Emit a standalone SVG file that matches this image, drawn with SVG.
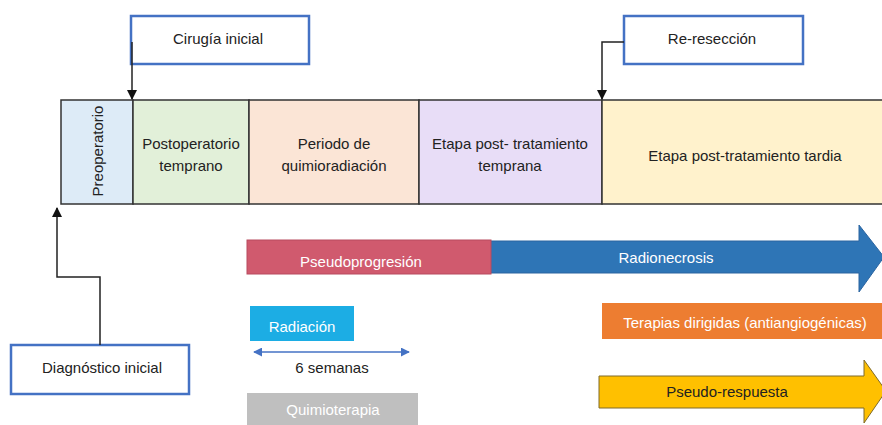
<svg xmlns="http://www.w3.org/2000/svg" width="882" height="425" viewBox="0 0 882 425">
<style>
text{font-family:"Liberation Sans",Arial,sans-serif;font-size:15px;text-anchor:middle;dominant-baseline:central;fill:#222}
.w{fill:#fff}
.lbl{fill:#fff;stroke:#4472C4;stroke-width:2.5}
.seg{stroke:#333;stroke-width:1.5}
.con{fill:none;stroke:#222;stroke-width:1.5}
</style>
<defs>
<marker id="ah" viewBox="0 0 10 10" refX="9" refY="5" markerWidth="7" markerHeight="7" orient="auto-start-reverse"><path d="M0,0L10,5L0,10z" fill="#111"/></marker>
<marker id="bh" viewBox="0 0 10 10" refX="9" refY="5" markerWidth="6" markerHeight="6" orient="auto-start-reverse"><path d="M0,0L10,5L0,10z" fill="#4472C4"/></marker>
</defs>
<rect width="882" height="425" fill="#fff"/>
<g id="timeline">
<g id="preoperatorio"><rect class="seg" x="61" y="100" width="72" height="104" fill="#DDEBF7"/><text transform="translate(97,151) rotate(-90)">Preoperatorio</text></g>
<g id="postoperatorio"><rect class="seg" x="133" y="100" width="116" height="104" fill="#E2F0D9"/><text x="191" y="143">Postoperatorio</text><text x="191" y="165">temprano</text></g>
<g id="quimiorad"><rect class="seg" x="249" y="100" width="170" height="104" fill="#FBE5D6"/><text x="334" y="143">Periodo de</text><text x="334" y="165">quimioradiación</text></g>
<g id="temprana"><rect class="seg" x="419" y="100" width="183" height="104" fill="#E8DDF7"/><text x="510" y="143">Etapa post- tratamiento</text><text x="510" y="165">temprana</text></g>
<g id="tardia"><rect class="seg" x="602" y="100" width="290" height="104" fill="#FFF2CC"/><text x="745" y="155">Etapa post-tratamiento tardia</text></g>
</g>
<g id="cirugia"><rect class="lbl" x="131" y="16" width="178" height="48"/><text x="218" y="38">Cirugía inicial</text></g>
<g id="reseccion"><rect class="lbl" x="624" y="16" width="179" height="48"/><text x="712" y="38">Re-resección</text></g>
<g id="diagnostico"><rect class="lbl" x="11" y="345" width="178" height="49"/><text x="102" y="367">Diagnóstico inicial</text></g>
<g id="connectors">
<path class="con" d="M132,42V99" marker-end="url(#ah)"/>
<path class="con" d="M624,42H602V99" marker-end="url(#ah)"/>
<path class="con" d="M100,345V277H57V208" marker-end="url(#ah)"/>
<path d="M254,352H409" stroke="#4472C4" stroke-width="1.5" marker-start="url(#bh)" marker-end="url(#bh)"/>
</g>
<g id="radionecrosis"><path d="M490,241H859V225L884,257L859,292V273H490z" fill="#2E75B6" stroke="#2A64A0" stroke-width="1"/><text class="w" x="666" y="257">Radionecrosis</text></g>
<g id="pseudoprogresion"><rect x="247" y="240" width="244" height="34" fill="#D05A6E" stroke="#B84B5E" stroke-width="1"/><text class="w" x="361" y="261">Pseudoprogresión</text></g>
<g id="terapias"><rect x="602" y="303" width="282" height="36" fill="#ED7D31"/><text class="w" x="745" y="322">Terapias dirigidas (antiangiogénicas)</text></g>
<g id="pseudorespuesta"><path d="M599,376H864V360L886,391L864,423V408H599z" fill="#FFC000" stroke="#7F6A2A" stroke-width="1"/><text x="727" y="391">Pseudo-respuesta</text></g>
<g id="radiacion"><rect x="250" y="306" width="104" height="35" fill="#1CADE4"/><text class="w" x="302" y="326">Radiación</text></g>
<g id="semanas"><text x="332" y="367">6 semanas</text></g>
<g id="quimioterapia"><rect x="247" y="393" width="171" height="34" fill="#BFBFBF"/><text class="w" x="333" y="409">Quimioterapia</text></g>
</svg>
